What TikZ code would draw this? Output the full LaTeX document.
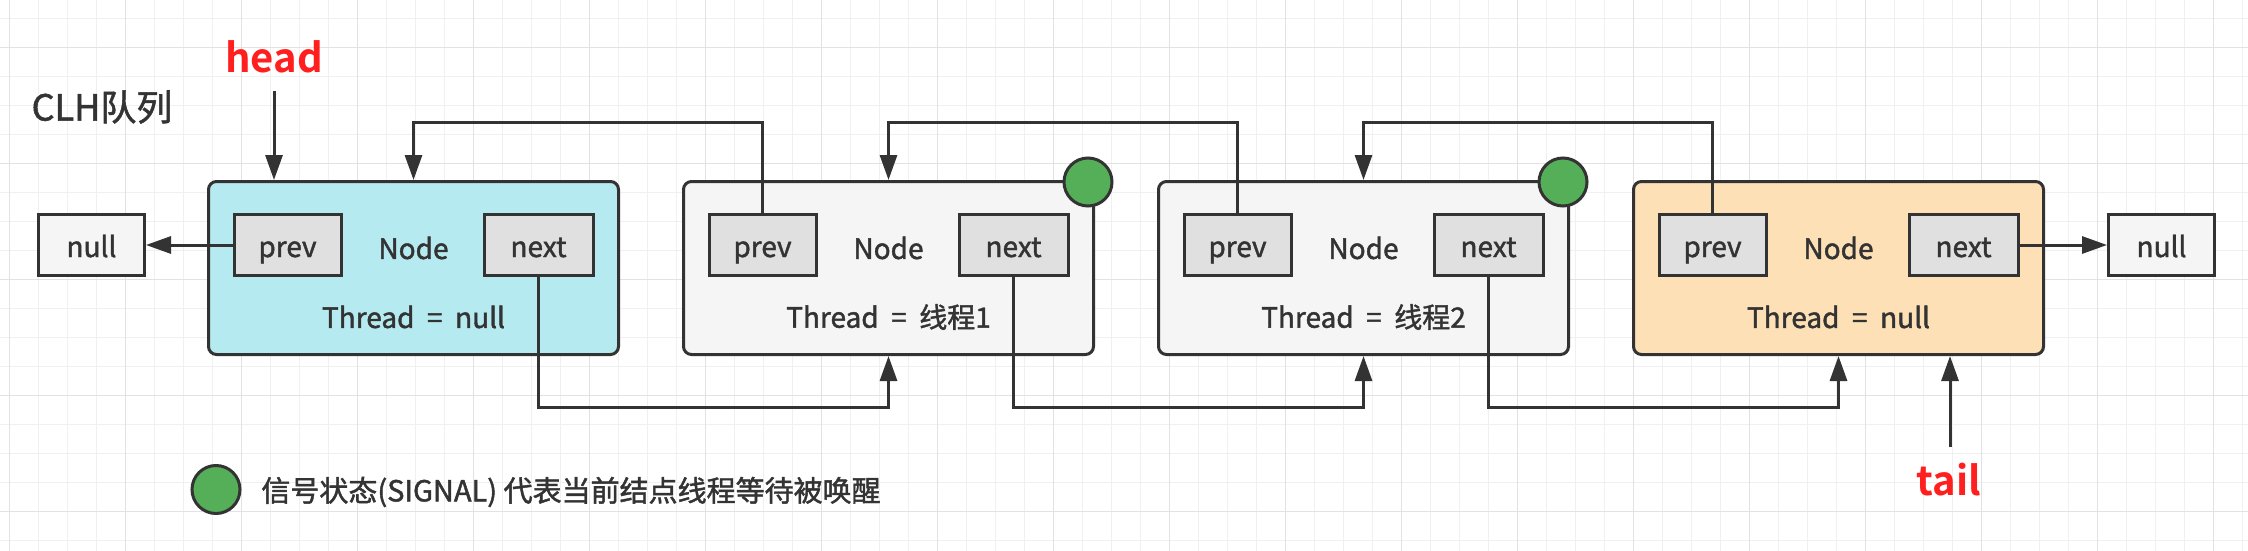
\documentclass[tikz,border=0pt]{standalone}
\usepackage{fontspec}
\setmainfont{Noto Sans CJK SC}[FakeBold=1.5, BoldFont={Noto Sans CJK SC Bold}, BoldFeatures={FakeBold=0}]
\usetikzlibrary{arrows.meta}
\definecolor{ink}{HTML}{333333}
\definecolor{headcyan}{HTML}{B5EAF0}
\definecolor{tailorange}{HTML}{FDE0B5}
\definecolor{nodegray}{HTML}{F5F5F5}
\definecolor{fieldgray}{HTML}{E0E0E0}
\definecolor{siggreen}{HTML}{55AF58}
\definecolor{ptrred}{HTML}{FF1F1F}
\definecolor{gridminor}{HTML}{F0F0F0}
\definecolor{gridmajor}{HTML}{E2E2E2}
\begin{document}
\begin{tikzpicture}[x=0.5pt, y=-0.5pt,
        qnode/.style={draw=ink, line width=1.5pt, rounded corners=4pt, minimum width=205pt, minimum height=86.5pt, inner sep=0pt},
        field/.style={draw=ink, line width=1.5pt, fill=fieldgray, minimum height=30.5pt, inner sep=0pt, text height=12pt, text depth=0pt, text=ink, font=\fontsize{14}{16}\selectfont},
        nullbox/.style={field, fill=nodegray, minimum width=53pt},
        txt/.style={text=ink, inner sep=0pt, font=\fontsize{14}{16}\selectfont},
        ptr/.style={text=ptrred, inner sep=0pt, font=\fontsize{20}{24}\selectfont\bfseries},
        sig/.style={circle, draw=ink, line width=1.5pt, fill=siggreen, minimum size=24pt, inner sep=0pt},
        link/.style={draw=ink, line width=1.5pt, -{Triangle[length=12.5pt,width=8.5pt]}}]
        \fill[white] (0,0) rectangle (2248,551);
        \useasboundingbox (0,0) rectangle (2248,551);
        \foreach \i in {0,...,77} \draw[gridminor, line width=0.5pt] ({9.3+29*\i},0) -- ++(0,551);
        \foreach \j in {0,...,18} \draw[gridminor, line width=0.5pt] (0,{18.3+29*\j}) -- ++(2248,0);
        \foreach \i in {0,...,19} \draw[gridmajor, line width=0.5pt] ({9.3+116*\i},0) -- ++(0,551);
        \foreach \j in {0,...,4} \draw[gridmajor, line width=0.5pt] (0,{47.3+116*\j}) -- ++(2248,0);

        \node[txt, font=\fontsize{18}{22}\selectfont] (title) at (102,107) {CLH队列};

        \node[qnode, fill=headcyan] (b1) at (413.5,268) {};
        \node[qnode, fill=nodegray] (b2) at (888.5,268) {};
        \node[qnode, fill=nodegray] (b3) at (1363.5,268) {};
        \node[qnode, fill=tailorange] (b4) at (1838.5,268) {};

        \node[field, minimum width=53.5pt] (p1) at (287.5,245) {prev};
        \node[field, minimum width=54.5pt] (n1) at (538.5,245) {next};
        \node[txt] (nd1) at (413.5,248) {Node};
        \node[txt] (th1) at (413.5,317) {Thread~~=~~null};

        \node[field, minimum width=53.5pt] (p2) at (762.5,245) {prev};
        \node[field, minimum width=54.5pt] (n2) at (1013.5,245) {next};
        \node[txt] (nd2) at (888.5,248) {Node};
        \node[txt] (th2) at (888.5,317) {Thread~~=~~线程1};

        \node[field, minimum width=53.5pt] (p3) at (1237.5,245) {prev};
        \node[field, minimum width=54.5pt] (n3) at (1488.5,245) {next};
        \node[txt] (nd3) at (1363.5,248) {Node};
        \node[txt] (th3) at (1363.5,317) {Thread~~=~~线程2};

        \node[field, minimum width=53.5pt] (p4) at (1712.5,245) {prev};
        \node[field, minimum width=54.5pt] (n4) at (1963.5,245) {next};
        \node[txt] (nd4) at (1838.5,248) {Node};
        \node[txt] (th4) at (1838.5,317) {Thread~~=~~null};

        \node[nullbox] (nl) at (91.5,245) {null};
        \node[nullbox] (nr) at (2161.5,245) {null};

        \node[sig] (s2) at (1088,182) {};
        \node[sig] (s3) at (1563,182) {};

        \node[ptr] (head) at (274,57) {head};
        \node[ptr] (tail) at (1949,480) {tail};
        \coordinate (hs) at (274,91);
        \coordinate (ts) at (1950,447);

        \draw[link] (hs) -- (hs |- b1.north);
        \draw[link] (ts) -- (ts |- b4.south);
        \draw[link] (p1.west) -- (nl.east);
        \draw[link] (n4.east) -- (nr.west);

        \draw[link] (p2.north) -- ++(0,-90) -| (b1.north);
        \draw[link] (p3.north) -- ++(0,-90) -| (b2.north);
        \draw[link] (p4.north) -- ++(0,-90) -| (b3.north);

        \draw[link] (n1.south) -- ++(0,130) -| (b2.south);
        \draw[link] (n2.south) -- ++(0,130) -| (b3.south);
        \draw[link] (n3.south) -- ++(0,130) -| (b4.south);

        \node[sig] (lg) at (216,489.5) {};
        \node[txt, anchor=west, font=\fontsize{14.5}{17}\selectfont] (lgt) at (261,492) {信号状态(SIGNAL) 代表当前结点线程等待被唤醒};
    \end{tikzpicture}
\end{document}
